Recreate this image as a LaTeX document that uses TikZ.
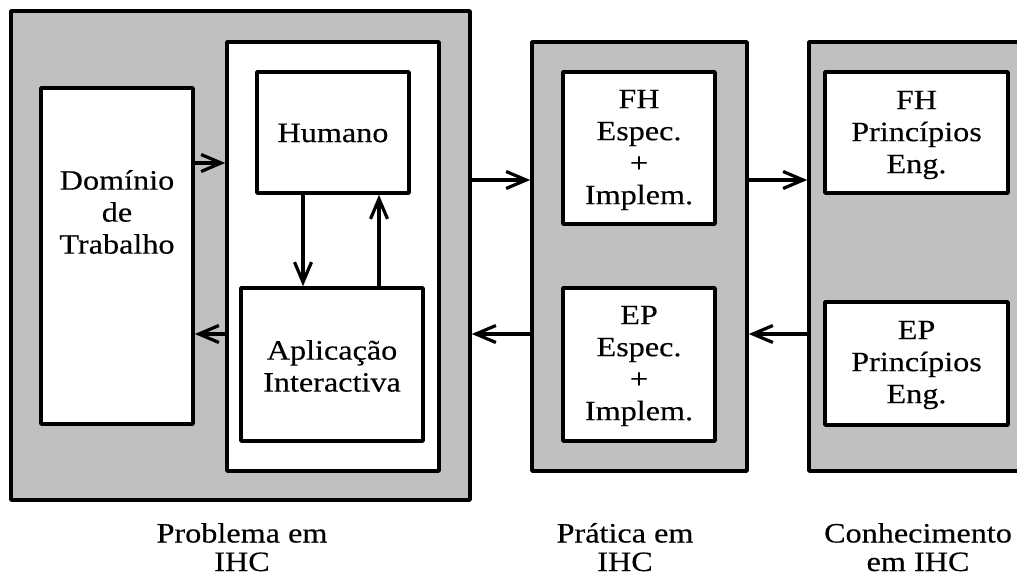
\documentclass[tikz,border=0pt]{standalone}
\usepackage{fontspec}
\setmainfont{Liberation Serif}[FakeStretch=1.15,FakeBold=0.3]
\usetikzlibrary{arrows.meta}
\definecolor{panelgray}{RGB}{192,192,192}
\tikzset{
  panel/.style={draw, line width=3.6pt, fill=panelgray, inner sep=0pt, line join=round},
  whitebox/.style={draw, line width=3.6pt, fill=white, inner sep=0pt, line join=round},
  txt/.style={align=center, inner sep=0pt, font=\fontsize{28}{32}\selectfont},
  captxt/.style={align=center, inner sep=0pt, anchor=base, font=\fontsize{28}{28.5}\selectfont},
  arr/.style={line width=3.2pt, -{Straight Barb[length=20pt,width=17pt,line width=3.2pt]}},
}
\begin{document}
\begin{tikzpicture}[x=1pt,y=-1pt]
\useasboundingbox (0,0) rectangle (1017,577);
\clip (0,0) rectangle (1017,577);
\fill[white] (0,0) rectangle (1017,577);

% row heights for the horizontal connectors
\coordinate (rowA) at (0,180);
\coordinate (rowB) at (0,334);
\coordinate (rowC) at (0,163);

% problem panel
\node[panel, minimum width=459pt, minimum height=489pt] (prob) at (240.5,255.5) {};
\node[whitebox, minimum width=152pt, minimum height=336pt] (dom) at (117,256) {};
\node[txt] (domtxt) at (117,212) {Domínio\\de\\Trabalho};
\node[whitebox, minimum width=212pt, minimum height=429pt] (inner) at (333,256.5) {};
\node[whitebox, minimum width=152pt, minimum height=121pt] (hum) at (333,132.5) {};
\node[txt] (humtxt) at (333,133) {Humano};
\node[whitebox, minimum width=182pt, minimum height=153pt] (apl) at (332,364.5) {};
\node[txt] (apltxt) at (332,366) {Aplicação\\Interactiva};

% practice panel
\node[panel, minimum width=215pt, minimum height=429pt] (prat) at (639.5,256.5) {};
\node[whitebox, minimum width=152pt, minimum height=152pt] (fhe) at (639,148) {};
\node[txt] (fhetxt) at (639,150) {FH\\Espec.\\+\\Implem.};
\node[whitebox, minimum width=152pt, minimum height=153pt] (epe) at (639,364.5) {};
\node[txt] (epetxt) at (639,366) {EP\\Espec.\\+\\Implem.};

% knowledge panel
\node[panel, minimum width=221pt, minimum height=429pt] (conh) at (919.5,256.5) {};
\node[whitebox, minimum width=183pt, minimum height=121pt] (fhp) at (916.5,132.5) {};
\node[txt] (fhptxt) at (916.5,135) {FH\\Princípios\\Eng.};
\node[whitebox, minimum width=183pt, minimum height=123pt] (epp) at (916.5,363.5) {};
\node[txt] (epptxt) at (916.5,365) {EP\\Princípios\\Eng.};

% captions (anchored on the baseline of the last line)
\node[captxt] (capprob) at (242,571) {Problema em\\IHC};
\node[captxt] (capprat) at (625,571) {Prática em\\IHC};
\node[captxt] (capconh) at (918,571) {Conhecimento\\em IHC};

% connectors
\coordinate (colD) at (303,0);
\coordinate (colU) at (379,0);
\draw[arr] (dom.east |- rowC) -- (inner.west |- rowC);
\draw[arr] (inner.west |- rowB) -- (dom.east |- rowB);
\draw[arr] (hum.south -| colD) -- (apl.north -| colD);
\draw[arr] (apl.north -| colU) -- (hum.south -| colU);
\draw[arr] (prob.east |- rowA) -- (prat.west |- rowA);
\draw[arr] (prat.west |- rowB) -- (prob.east |- rowB);
\draw[arr] (prat.east |- rowA) -- (conh.west |- rowA);
\draw[arr] (conh.west |- rowB) -- (prat.east |- rowB);
\end{tikzpicture}
\end{document}
